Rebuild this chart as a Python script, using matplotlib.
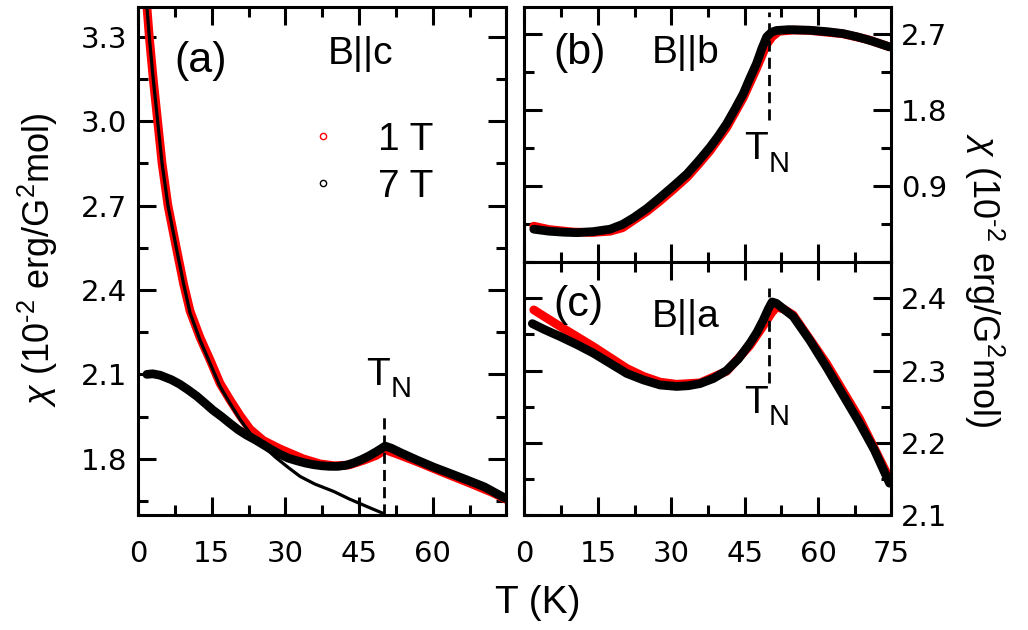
import numpy as np
import matplotlib
matplotlib.use("Agg")
import matplotlib.pyplot as plt
from matplotlib.lines import Line2D
from matplotlib.ticker import MultipleLocator

plt.rcParams['font.family'] = ['Liberation Sans', 'DejaVu Sans']
plt.rcParams['mathtext.fontset'] = 'custom'
plt.rcParams['mathtext.rm'] = 'Liberation Sans'
plt.rcParams['mathtext.it'] = 'Liberation Sans:italic'

# ---------------- data ----------------
TN = 50

# (a) B||c
Tc_1T = [1.8, 2.3, 3.1, 4.0, 4.9, 6.1, 7.8, 9.3, 10.6, 12.6, 14.7, 16.7, 18.7, 20.8,
         22.8, 25.5, 28.9, 33.6, 37, 40, 43, 46, 48.5, 50.3, 53, 57, 62, 67, 72, 75]
chic_1T = [3.41, 3.30, 3.15, 3.00, 2.85, 2.70, 2.55, 2.42, 2.325, 2.232, 2.15, 2.068,
           2.01, 1.953, 1.905, 1.865, 1.835, 1.80, 1.782, 1.775, 1.778, 1.795, 1.812,
           1.832, 1.815, 1.788, 1.752, 1.717, 1.681, 1.655]

Tc_7T = [1.8, 3, 4.5, 6.8, 8.5, 10.2, 12, 13.6, 15.3, 17, 18.7, 20.4, 22.1, 23.8, 25.5,
         27.2, 29, 30.6, 32.3, 34, 35.7, 37.4, 39, 40.7, 42.4, 44, 45.5, 47, 48.5,
         49.5, 50.3, 51.5, 53.4, 56.7, 60.2, 63.5, 66.9, 70.5, 74.7]
chic_7T = [2.10, 2.102, 2.097, 2.081, 2.065, 2.045, 2.022, 1.998, 1.972, 1.95, 1.926,
           1.903, 1.884, 1.868, 1.85, 1.832, 1.815, 1.802, 1.793, 1.785, 1.779, 1.775,
           1.773, 1.773, 1.777, 1.786, 1.797, 1.81, 1.825, 1.836, 1.845, 1.838, 1.822,
           1.796, 1.77, 1.748, 1.725, 1.70, 1.66]

Tc_fit = [1.8, 2.3, 3.1, 4.0, 4.9, 6.1, 7.8, 9.3, 10.6, 12.6, 14.65, 16.7, 18.7, 20.8,
          22.8, 25.5, 28, 30.5, 33, 36, 39.8, 43, 46.6, 50]
chic_fit = [3.41, 3.30, 3.15, 3.00, 2.85, 2.70, 2.55, 2.42, 2.318, 2.223, 2.14, 2.057,
            1.998, 1.939, 1.891, 1.845, 1.805, 1.77, 1.737, 1.71, 1.684, 1.657, 1.63, 1.605]

# (b) B||b
Tb_7T = [1.9, 5, 8, 10.7, 14, 17.5, 20, 22.3, 25, 27.7, 30.5, 33.2, 35.5, 37.9, 39.6,
         41.3, 43, 44.7, 46, 47.4, 48.5, 49.5, 50.5, 51.5, 54, 58.3, 62, 65.1, 68, 71, 74.6]
chib_7T = [0.384, 0.36, 0.348, 0.343, 0.355, 0.384, 0.44, 0.52, 0.63, 0.76, 0.90, 1.04,
           1.19, 1.357, 1.49, 1.636, 1.81, 1.993, 2.17, 2.35, 2.53, 2.67, 2.725, 2.745,
           2.755, 2.748, 2.73, 2.708, 2.67, 2.62, 2.55]

Tb_1T = [1.9, 5, 10, 14, 17.5, 20, 22.3, 25, 27.7, 30.5, 33.2, 35.5, 37.9, 41.3, 44.7,
         47.4, 49.5, 50.6, 52, 55, 58.3, 65.1, 70, 74.6]
chib_1T = [0.42, 0.38, 0.35, 0.345, 0.36, 0.40, 0.49, 0.595, 0.72, 0.86, 1.0, 1.15,
           1.315, 1.59, 1.945, 2.29, 2.58, 2.67, 2.735, 2.75, 2.745, 2.705, 2.64, 2.55]

# (c) B||a
Ta_7T = [1.6, 4, 7.3, 10.7, 14.1, 17.5, 20.9, 24.3, 27.7, 31.1, 33.5, 35.9, 38.6, 41.3,
         43.7, 46.1, 47.5, 48.8, 49.8, 50.6, 51.5, 53, 54.9, 58.3, 61.7, 65.1, 68.5,
         71.5, 74.6]
chia_7T = [2.365, 2.357, 2.347, 2.336, 2.324, 2.31, 2.296, 2.287, 2.28, 2.278, 2.279,
           2.282, 2.289, 2.30, 2.316, 2.338, 2.353, 2.37, 2.385, 2.395, 2.393, 2.385,
           2.375, 2.342, 2.305, 2.266, 2.227, 2.19, 2.144]

Ta_1T = [1.9, 4, 7.3, 10.7, 14.1, 17.5, 20.9, 24.3, 27.7, 31.1, 35.9, 41.3, 46.1, 48.8,
         50.5, 51.5, 53, 54.9, 61.7, 68.5, 74.6]
chia_1T = [2.384, 2.375, 2.361, 2.347, 2.333, 2.318, 2.303, 2.292, 2.284, 2.281, 2.283,
           2.299, 2.335, 2.362, 2.38, 2.388, 2.385, 2.377, 2.31, 2.233, 2.15]

# dashed T_N markers: (ymin, ymax) per panel
tn_a = [1.6, 1.967]
tn_b = [1.68, 2.97]
tn_c = [2.283, 2.414]

# ---------------- figure ----------------
fig = plt.figure(figsize=(10.28, 6.3), dpi=100)
ax_a = fig.add_axes([0.13424, 0.18254, 0.35846, 0.80714])
ax_b = fig.add_axes([0.51021, 0.58492, 0.35700, 0.40476])
ax_c = fig.add_axes([0.51021, 0.18254, 0.35700, 0.40238])

LW = 6.3


def style(ax, right=False):
    for s in ax.spines.values():
        s.set_linewidth(2.2)
    ax.tick_params(which='both', direction='in', top=True, right=True,
                   width=2.2, labelsize=21, labelfontfamily='DejaVu Sans')
    ax.tick_params(which='major', length=13)
    ax.tick_params(which='minor', length=7.5)
    ax.tick_params(axis='x', pad=18)
    ax.tick_params(axis='y', pad=8)
    ax.xaxis.set_major_locator(MultipleLocator(15))
    ax.xaxis.set_minor_locator(MultipleLocator(7.5))
    ax.set_xlim(0, 75)
    if right:
        ax.tick_params(axis='y', labelleft=False, labelright=True, pad=7)


def band(ax, T, chi, color, lw=LW):
    ax.plot(T, chi, color=color, lw=lw, solid_joinstyle='round',
            solid_capstyle='round')


def tn_label(ax, x, y, dy):
    ax.text(x, y, 'T', fontsize=28, ha='center', va='baseline')
    ax.text(x + 2.6, y - dy, 'N', fontsize=21, ha='left', va='baseline')


# (a)
band(ax_a, Tc_1T, chic_1T, 'red')
band(ax_a, Tc_7T, chic_7T, 'black')
band(ax_a, Tc_fit, chic_fit, 'black', lw=2.3)
ax_a.vlines(TN, tn_a[0], tn_a[1], colors='black', lw=2, linestyles=(0, (4, 2.2)))
style(ax_a)
ax_a.set_xticks([0, 15, 30, 45, 60])
ax_a.set_ylim(1.6, 3.408)
ax_a.yaxis.set_major_locator(MultipleLocator(0.3))
ax_a.yaxis.set_minor_locator(MultipleLocator(0.15))
ax_a.yaxis.set_major_formatter(lambda v, p: f'{v:.1f}')
ax_a.text(0.1, 0.872, '(a)', transform=ax_a.transAxes, fontsize=31)
ax_a.text(0.516, 0.887, 'B||c', transform=ax_a.transAxes, fontsize=28)
tn_label(ax_a, 48.85, 2.063, 0.043)
handles = [Line2D([], [], ls='none', marker='o', ms=4.5, mfc='none', mec='red', mew=1),
           Line2D([], [], ls='none', marker='o', ms=4.5, mfc='none', mec='black', mew=1)]
ax_a.legend(handles, ['1 T', '7 T'], loc='upper left', bbox_to_anchor=(0.449, 0.773),
            frameon=False, fontsize=28, handlelength=1.0, handletextpad=0.91,
            labelspacing=0.28, borderpad=0, borderaxespad=0)

# (b)
band(ax_b, Tb_1T, chib_1T, 'red')
band(ax_b, Tb_7T, chib_7T, 'black')
ax_b.vlines(TN, tn_b[0], tn_b[1], colors='black', lw=2, linestyles=(0, (4, 2.2)))
style(ax_b, right=True)
ax_b.tick_params(axis='x', labelbottom=False)
ax_b.set_ylim(0, 3.03)
ax_b.yaxis.set_major_locator(MultipleLocator(0.9))
ax_b.yaxis.set_minor_locator(MultipleLocator(0.45))
ax_b.set_yticks([0.9, 1.8, 2.7])
ax_b.text(0.078, 0.775, '(b)', transform=ax_b.transAxes, fontsize=31)
ax_b.text(0.347, 0.778, 'B||b', transform=ax_b.transAxes, fontsize=28)
tn_label(ax_b, 47.3, 1.222, 0.155)

# (c)
band(ax_c, Ta_1T, chia_1T, 'red')
band(ax_c, Ta_7T, chia_7T, 'black')
ax_c.vlines(TN, tn_c[0], tn_c[1], colors='black', lw=2, linestyles=(0, (4, 2.2)))
style(ax_c, right=True)
ax_c.set_ylim(2.1, 2.451)
ax_c.yaxis.set_major_locator(MultipleLocator(0.1))
ax_c.yaxis.set_minor_locator(MultipleLocator(0.05))
ax_c.yaxis.set_major_formatter(lambda v, p: f'{v:.1f}')
ax_c.text(0.078, 0.786, '(c)', transform=ax_c.transAxes, fontsize=31)
ax_c.text(0.347, 0.743, 'B||a', transform=ax_c.transAxes, fontsize=28)
tn_label(ax_c, 47.3, 2.241, 0.0165)

ylab = '$\\chi$ (10$^{\\mathrm{\u20102}}$ erg/G$^{\\mathrm{2}}$mol)'
fig.text(50 / 1028, 1 - 260 / 630, ylab, fontsize=26, rotation=90,
         rotation_mode='anchor', ha='center', va='baseline')
fig.text(972 / 1028, 1 - 280 / 630, ylab, fontsize=26, rotation=270,
         rotation_mode='anchor', ha='center', va='baseline')
fig.text(537.5 / 1028, 1 - 613 / 630, 'T (K)', fontsize=28, ha='center', va='baseline')

fig.savefig('out.png', dpi=100)
